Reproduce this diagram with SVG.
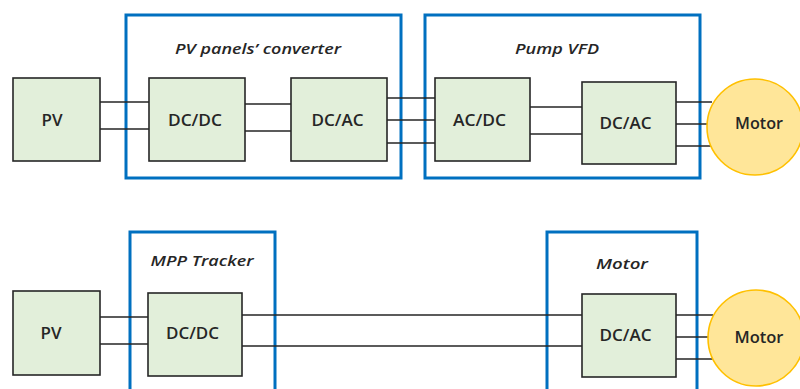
<svg xmlns="http://www.w3.org/2000/svg" width="800" height="389" viewBox="0 0 800 389">
  <style>
    .blk { fill: #E2EFDA; stroke: #262626; stroke-width: 1.6; }
    .grp { fill: none; stroke: #0070C0; stroke-width: 3; }
    .mot { fill: #FFE699; stroke: #FFC000; stroke-width: 1.6; }
    .lbl { font-family: "Open Sans", "Liberation Sans", sans-serif; font-size: 17px; font-weight: 600; fill: #262626; text-anchor: middle; dominant-baseline: central; }
    .ttl { font-family: "Open Sans", "Liberation Sans", sans-serif; font-size: 15px; font-weight: 600; font-style: italic; fill: #262626; text-anchor: middle; dominant-baseline: central; }
    .wire { stroke: #262626; stroke-width: 1.6; fill: none; }
  </style>

  <!-- group frames -->
  <g id="pv-converter">
    <rect class="grp" x="126" y="15" width="275" height="163"/>
    <text class="ttl" x="258" y="48" textLength="166" lengthAdjust="spacingAndGlyphs">PV panels’ converter</text>
  </g>
  <g id="pump-vfd">
    <rect class="grp" x="425" y="15" width="275" height="163"/>
    <text class="ttl" x="557" y="48" textLength="84" lengthAdjust="spacingAndGlyphs">Pump VFD</text>
  </g>
  <g id="mpp-tracker">
    <rect class="grp" x="130" y="232" width="145" height="170"/>
    <text class="ttl" x="202" y="260" textLength="103" lengthAdjust="spacingAndGlyphs">MPP Tracker</text>
  </g>
  <g id="motor-drive">
    <rect class="grp" x="547" y="232" width="150" height="170"/>
    <text class="ttl" x="622" y="263" textLength="52" lengthAdjust="spacingAndGlyphs">Motor</text>
  </g>

  <!-- connectors -->
  <g id="connectors">
    <path class="wire" d="M100 102H149M100 129H149"/>
    <path class="wire" d="M242 104H291M242 131H291"/>
    <path class="wire" d="M387 98H435M387 120H435M387 143H435"/>
    <path class="wire" d="M530 107H582M530 134H582"/>
    <path class="wire" d="M676 102H712M676 124H708M676 146H712"/>
    <path class="wire" d="M100 317H148M100 344H148"/>
    <path class="wire" d="M242 315H582M242 346H582"/>
    <path class="wire" d="M676 315H713M676 337H709M676 359H713"/>
  </g>

  <!-- top chain -->
  <g id="pv-top">
    <rect class="blk" x="13" y="78" width="87" height="83"/>
    <text class="lbl" x="52" y="119" textLength="21" lengthAdjust="spacingAndGlyphs">PV</text>
  </g>
  <g id="dcdc-top">
    <rect class="blk" x="149" y="78" width="96" height="83"/>
    <text class="lbl" x="195" y="119" textLength="54" lengthAdjust="spacingAndGlyphs">DC/DC</text>
  </g>
  <g id="dcac-top">
    <rect class="blk" x="291" y="78" width="96" height="83"/>
    <text class="lbl" x="337.5" y="119" textLength="52" lengthAdjust="spacingAndGlyphs">DC/AC</text>
  </g>
  <g id="acdc-top">
    <rect class="blk" x="435" y="78" width="95" height="83"/>
    <text class="lbl" x="479.5" y="119" textLength="53" lengthAdjust="spacingAndGlyphs">AC/DC</text>
  </g>
  <g id="dcac-vfd">
    <rect class="blk" x="582" y="82" width="94" height="82"/>
    <text class="lbl" x="625.5" y="122.5" textLength="52" lengthAdjust="spacingAndGlyphs">DC/AC</text>
  </g>
  <g id="motor-top">
    <circle class="mot" cx="755" cy="127" r="48"/>
    <text class="lbl" x="759" y="122.5" textLength="48" lengthAdjust="spacingAndGlyphs">Motor</text>
  </g>

  <!-- bottom chain -->
  <g id="pv-bottom">
    <rect class="blk" x="13" y="291" width="87" height="84"/>
    <text class="lbl" x="51" y="332.5" textLength="21" lengthAdjust="spacingAndGlyphs">PV</text>
  </g>
  <g id="dcdc-bottom">
    <rect class="blk" x="148" y="293" width="94" height="83"/>
    <text class="lbl" x="192.5" y="332.5" textLength="53" lengthAdjust="spacingAndGlyphs">DC/DC</text>
  </g>
  <g id="dcac-bottom">
    <rect class="blk" x="582" y="294" width="94" height="83"/>
    <text class="lbl" x="625.5" y="334" textLength="52" lengthAdjust="spacingAndGlyphs">DC/AC</text>
  </g>
  <g id="motor-bottom">
    <circle class="mot" cx="756" cy="338" r="48"/>
    <text class="lbl" x="759" y="336" textLength="49" lengthAdjust="spacingAndGlyphs">Motor</text>
  </g>
</svg>
